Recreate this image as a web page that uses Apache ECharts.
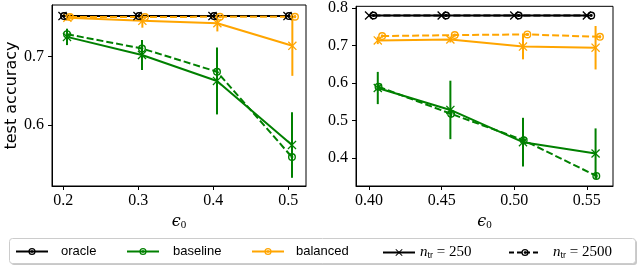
<!DOCTYPE html>
<html><head><meta charset="utf-8">
<script src="https://cdn.jsdelivr.net/npm/echarts@6/dist/echarts.min.js"></script>
<style>html,body{margin:0;padding:0;background:#fff}#c{width:640px;height:268px}</style>
</head><body><div id="c"></div>
<script>
// ---------- data ----------
const epsL = [0.2, 0.3, 0.4, 0.5];
const epsR = [0.40, 0.45, 0.50, 0.55];
const xTicksL = [0.2, 0.3, 0.4, 0.5];
const xTicksR = [0.40, 0.45, 0.50, 0.55];
const yTicksL = [0.6, 0.7];
const yTicksR = [0.4, 0.5, 0.6, 0.7, 0.8];

// left panel
const oracle250L = [0.7595, 0.7595, 0.7595, 0.7595];
const oracle250LErr = [0.001, 0.001, 0.001, 0.001];
const oracle2500L = [0.7595, 0.7595, 0.7595, 0.7595];
const oracle2500LErr = [0.001, 0.001, 0.001, 0.001];
const baseline250L = [0.729, 0.7025, 0.6645, 0.5707];
const baseline250LErr = [0.012, 0.022, 0.049, 0.048];
const baseline2500L = [0.733, 0.712, 0.678, 0.553];
const baseline2500LErr = [0.004, 0.006, 0.008, 0.01];
const balanced250L = [0.757, 0.7525, 0.749, 0.716];
const balanced250LErr = [0.004, 0.010, 0.012, 0.044];
const balanced2500L = [0.758, 0.758, 0.7585, 0.7585];
const balanced2500LErr = [0.002, 0.002, 0.002, 0.002];

// right panel
const oracle250R = [0.780, 0.780, 0.780, 0.780];
const oracle250RErr = [0.002, 0.002, 0.002, 0.002];
const oracle2500R = [0.780, 0.780, 0.780, 0.780];
const oracle2500RErr = [0.002, 0.002, 0.002, 0.002];
const baseline250R = [0.5865, 0.528, 0.442, 0.4117];
const baseline250RErr = [0.043, 0.078, 0.065, 0.067];
const baseline2500R = [0.590, 0.5176, 0.447, 0.352];
const baseline2500RErr = [0.008, 0.01, 0.01, 0.008];
const balanced250R = [0.7136, 0.716, 0.697, 0.694];
const balanced250RErr = [0.010, 0.008, 0.034, 0.058];
const balanced2500R = [0.725, 0.7277, 0.7295, 0.723];
const balanced2500RErr = [0.004, 0.004, 0.004, 0.004];

// horizontal jitter of each method around eps (data units)
const jitterL = {o250: -0.001, o2500: 0.001, b250: 0.005, b2500: 0.005, c250: 0.0055, c2500: 0.009};
const jitterR = {o250: 0.0, o2500: 0.003, b250: 0.006, b2500: 0.0065, c250: 0.006, c2500: 0.009};

const legendNames = ['oracle', 'baseline', 'balanced', 'n250', 'n2500'];

// ---------- styles ----------
const BLACK = '#000000', GREEN = '#008000', ORANGE = '#FFA500';
const RING = 'path://M0,-10A10,10 0 1,1 0,10A10,10 0 1,1 0,-10ZM0,-6.5A6.5,6.5 0 1,0 0,6.5A6.5,6.5 0 1,0 0,-6.5ZM0,-3.6A3.6,3.6 0 1,1 0,3.6A3.6,3.6 0 1,1 0,-3.6Z';
const CROSS = 'path://M-10,-8L-8,-10L0,-2L8,-10L10,-8L2,0L10,8L8,10L0,2L-8,10L-10,8L-2,0Z';
const DASH = [7, 3];
const SERIF = 'Liberation Serif';

function lineS(name, gi, eps, off, vals, color, dashed) {
  return {
    name: name, type: 'line', xAxisIndex: gi, yAxisIndex: gi,
    data: eps.map((e, i) => [e + off, vals[i]]),
    symbol: dashed ? RING : CROSS, symbolSize: dashed ? 8 : 9, symbolKeepAspect: true,
    showSymbol: true, silent: true,
    lineStyle: {color: color, width: 2, type: dashed ? DASH : 'solid'},
    itemStyle: {color: color}
  };
}
function errS(name, gi, eps, off, vals, errs, color) {
  return {
    name: name, type: 'custom', xAxisIndex: gi, yAxisIndex: gi, silent: true,
    data: eps.map((e, i) => [e + off, vals[i] - errs[i], vals[i] + errs[i]]),
    encode: {x: 0, y: [1, 2]},
    renderItem: function (params, api) {
      const p1 = api.coord([api.value(0), api.value(1)]);
      const p2 = api.coord([api.value(0), api.value(2)]);
      return {type: 'line', shape: {x1: p1[0], y1: p1[1], x2: p2[0], y2: p2[1]},
              style: {stroke: color, lineWidth: 2}};
    }
  };
}
function panel(gi, eps, jit, d) {
  return [
    lineS('o250_' + gi, gi, eps, jit.o250, d.o250, BLACK, false),
    errS('o250e_' + gi, gi, eps, jit.o250, d.o250, d.o250e, BLACK),
    lineS('b250_' + gi, gi, eps, jit.b250, d.b250, GREEN, false),
    errS('b250e_' + gi, gi, eps, jit.b250, d.b250, d.b250e, GREEN),
    lineS('c250_' + gi, gi, eps, jit.c250, d.c250, ORANGE, false),
    errS('c250e_' + gi, gi, eps, jit.c250, d.c250, d.c250e, ORANGE),
    lineS('o2500_' + gi, gi, eps, jit.o2500, d.o2500, BLACK, true),
    errS('o2500e_' + gi, gi, eps, jit.o2500, d.o2500, d.o2500e, BLACK),
    lineS('b2500_' + gi, gi, eps, jit.b2500, d.b2500, GREEN, true),
    errS('b2500e_' + gi, gi, eps, jit.b2500, d.b2500, d.b2500e, GREEN),
    lineS('c2500_' + gi, gi, eps, jit.c2500, d.c2500, ORANGE, true),
    errS('c2500e_' + gi, gi, eps, jit.c2500, d.c2500, d.c2500e, ORANGE)
  ];
}
const seriesL = panel(0, epsL, jitterL, {
  o250: oracle250L, o250e: oracle250LErr, o2500: oracle2500L, o2500e: oracle2500LErr,
  b250: baseline250L, b250e: baseline250LErr, b2500: baseline2500L, b2500e: baseline2500LErr,
  c250: balanced250L, c250e: balanced250LErr, c2500: balanced2500L, c2500e: balanced2500LErr});
const seriesR = panel(1, epsR, jitterR, {
  o250: oracle250R, o250e: oracle250RErr, o2500: oracle2500R, o2500e: oracle2500RErr,
  b250: baseline250R, b250e: baseline250RErr, b2500: baseline2500R, b2500e: baseline2500RErr,
  c250: balanced250R, c250e: balanced250RErr, c2500: balanced2500R, c2500e: balanced2500RErr});

// legend-only series
function legS(name, color, sym, dashed) {
  return {name: name, type: 'line', xAxisIndex: 0, yAxisIndex: 0, data: [],
    symbol: sym, symbolSize: 8, symbolKeepAspect: true,
    lineStyle: {color: color, width: 2, type: dashed ? [5, 3] : 'solid'}, itemStyle: {color: color}};
}
const legendSeries = [
  legS(legendNames[0], BLACK, RING, false),
  legS(legendNames[1], GREEN, RING, false),
  legS(legendNames[2], ORANGE, RING, false),
  legS(legendNames[3], BLACK, CROSS, false),
  legS(legendNames[4], BLACK, RING, true)
];

const tickFont = {fontFamily: SERIF, fontSize: 16, color: '#000'};
function xAxisDef(gi, min, max, ticks, dec) {
  return {type: 'value', gridIndex: gi, min: min, max: max,
    name: '{e|\u03f5}{z|0}', nameLocation: 'middle', nameGap: 19,
    nameTextStyle: {rich: {e: {fontFamily: 'DejaVu Serif', fontStyle: 'italic', fontSize: 16, color: '#000'},
                           z: {fontFamily: SERIF, fontSize: 11, color: '#000', verticalAlign: 'bottom', padding: [6, 0, 0, 0]}}},
    axisLine: {show: true, lineStyle: {color: '#000', width: 1}},
    axisTick: {show: true, inside: false, length: 4, customValues: ticks, lineStyle: {color: '#000'}},
    axisLabel: Object.assign({customValues: ticks, margin: 7, formatter: v => Number(v).toFixed(dec)}, tickFont),
    splitLine: {show: false}};
}
function yAxisDef(gi, min, max, ticks, name) {
  return {type: 'value', gridIndex: gi, min: min, max: max,
    name: name || '', nameLocation: 'middle', nameGap: 30,
    nameTextStyle: {fontFamily: 'DejaVu Sans', fontSize: 16, color: '#000'},
    axisLine: {show: true, lineStyle: {color: '#000', width: 1}},
    axisTick: {show: true, inside: false, length: 4, customValues: ticks, lineStyle: {color: '#000'}},
    axisLabel: Object.assign({customValues: ticks, margin: 8, formatter: v => Number(v).toFixed(1)}, tickFont),
    splitLine: {show: false}};
}

const legTextBase = {fontFamily: 'Liberation Sans', fontSize: 13, color: '#000'};
const nRich = {
  n: {fontFamily: SERIF, fontStyle: 'italic', fontSize: 15, color: '#000'},
  s: {fontFamily: 'Liberation Sans', fontSize: 9, color: '#000', verticalAlign: 'bottom', padding: [5, 0, 0, 0]},
  t: {fontFamily: SERIF, fontSize: 15, color: '#000'}
};
function legendDef(name, left, textPad) {
  return {data: [name], left: left, top: 245, itemWidth: 32, itemHeight: 9, padding: 0,
    selectedMode: false,
    textStyle: Object.assign({padding: [0, 0, 0, textPad], rich: nRich}, legTextBase),
    formatter: function (n) {
      if (n === 'n250') return '{n|n}{s|tr}{t| = 250}';
      if (n === 'n2500') return '{n|n}{s|tr}{t| = 2500}';
      return n;
    }};
}

const option = {
  animation: false,
  backgroundColor: '#fff',
  grid: [
    {left: 52, top: 5, width: 254, height: 181, show: true, borderColor: '#000', borderWidth: 1},
    {left: 356, top: 5, width: 257, height: 181, show: true, borderColor: '#000', borderWidth: 1}
  ],
  xAxis: [xAxisDef(0, 0.185, 0.5237, xTicksL, 1), xAxisDef(1, 0.391, 0.568, xTicksR, 2)],
  yAxis: [yAxisDef(0, 0.5107, 0.7757, yTicksL, 'test accuracy'), yAxisDef(1, 0.325, 0.8045, yTicksR, '')],
  legend: [
    legendDef(legendNames[0], 15, 8),
    legendDef(legendNames[1], 126, 9),
    legendDef(legendNames[2], 251, 7),
    legendDef(legendNames[3], 382, 0),
    legendDef(legendNames[4], 508, 7)
  ],
  graphic: [
    {type: 'rect', left: 11, top: 240, z: -2, silent: true,
     shape: {width: 626, height: 25, r: 3}, style: {fill: '#c8c8c8', stroke: null}},
    {type: 'rect', left: 9, top: 238, z: -1, silent: true,
     shape: {width: 626, height: 25, r: 3}, style: {fill: '#fff', stroke: '#cccccc', lineWidth: 1}}
  ],
  series: seriesL.concat(seriesR).concat(legendSeries)
};
const chart = echarts.init(document.getElementById('c'), null, {renderer: 'canvas'});
chart.setOption(option);
</script></body></html>
